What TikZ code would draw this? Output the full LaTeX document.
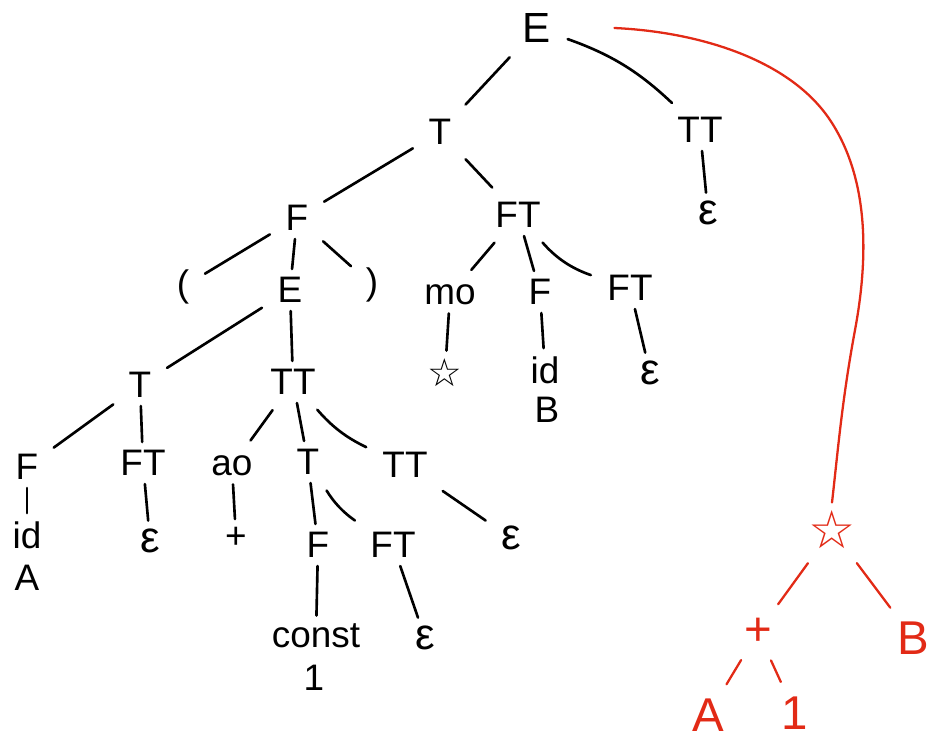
\documentclass[tikz,border=0pt]{standalone}
\usepackage{fontspec}
\setmainfont{Liberation Sans}
\newfontfamily\symfont{DejaVu Sans}
\definecolor{penred}{RGB}{226,42,22}

\begin{document}
\begin{tikzpicture}[-,
					x=0.02cm, y=-0.02cm,
					line width=1.5pt,
					line cap=round,
					sym node/.style={inner sep=4pt,font=\fontsize{21}{22}\selectfont},
					eps node/.style={sym node,font=\fontsize{25}{26}\selectfont},
					star node/.style={sym node,font=\symfont\fontsize{22}{24}\selectfont},
					red node/.style={sym node,text=penred,font=\fontsize{27}{28}\selectfont},
					red star/.style={red node,font=\symfont\fontsize{30}{32}\selectfont},
					red edge/.style={draw=penred,line width=1.3pt},
					vline/.style={shorten <=0pt,shorten >=0pt}]

  \useasboundingbox (0,0) rectangle (935,742);

  % parse tree
  \node[sym node,font=\fontsize{24}{26}\selectfont] (E0) at (537,28) {E};
  \node[sym node] (T1) at (440,132) {T};
  \node[sym node] (TT1) at (700,130) {TT};
  \node[eps node] (e1) at (708,213) {ε};
  \node[sym node] (F1) at (297,218) {F};
  \node[sym node] (FT1) at (518,215) {FT};
  \node[sym node] (lp) at (183,287) {(};
  \node[sym node] (E2) at (290,290) {E};
  \node[sym node] (rp) at (372,285) {)};
  \node[sym node] (mo) at (450,295) {mo};
  \node[sym node] (F2) at (540,292) {F};
  \node[sym node] (FT2) at (630,288) {FT};
  \node[star node] (st1) at (445,373) {☆};
  \node[sym node] (id1) at (545,370) {id};
  \node[sym node] (B1) at (547,410) {B};
  \node[eps node] (e2) at (650,373) {ε};
  \node[sym node] (T2) at (140,385) {T};
  \node[sym node] (TT2) at (293,382) {TT};
  \node[sym node] (F3) at (27,467) {F};
  \node[sym node] (FT3) at (143,463) {FT};
  \node[sym node] (ao) at (232,466) {ao};
  \node[sym node] (T3) at (308,462) {T};
  \node[sym node] (TT3) at (405,465) {TT};
  \node[sym node] (id2) at (27,535) {id};
  \node[sym node] (A1) at (27,578) {A};
  \node[eps node] (e3) at (150,541) {ε};
  \node[sym node] (plus) at (236,538) {+};
  \node[sym node] (F4) at (318,545) {F};
  \node[sym node] (FT4) at (393,545) {FT};
  \node[eps node] (e4) at (511,538) {ε};
  \node[sym node] (const) at (316,636) {const};
  \node[sym node] (one) at (314,678) {1};
  \node[eps node] (e5) at (425,638) {ε};

  % syntax tree
  \node[red star] (rst) at (832,530) {☆};
  \node[red node] (rplus) at (758,632) {+};
  \node[red node] (rB) at (913,638) {B};
  \node[red node] (rA) at (708,715) {A};
  \node[red node] (rone) at (795,713) {1};

  \path[every edge/.append style={shorten <=5pt,shorten >=5pt}]
    (E0) edge (T1)
         edge[bend left=12] (TT1)
    (TT1) edge[vline] (e1)
    (T1) edge (F1)
         edge (FT1)
    (F1) edge (lp)
         edge[vline] (E2)
         edge (rp)
    (FT1) edge (mo)
          edge[vline] (F2)
          edge[bend right=15] (FT2)
    (mo) edge[vline] (st1)
    (F2) edge[vline] (id1)
    (FT2) edge[vline] (e2)
    (E2) edge (T2)
         edge[vline] (TT2)
    (T2) edge (F3)
         edge[vline] (FT3)
    (TT2) edge (ao)
          edge[vline] (T3)
          edge[bend right=12] (TT3)
    (F3) edge[vline] (id2)
    (FT3) edge[vline] (e3)
    (ao) edge[vline] (plus)
    (T3) edge[vline] (F4)
         edge[bend right=12] (FT4)
    (TT3) edge (e4)
    (F4) edge[vline] (const)
    (FT4) edge[vline] (e5);

  \draw[red edge] ([xshift=1.1cm]E0.east) .. controls (700,32) and (790,60) .. (830,120)
    .. controls (870,180) and (868,260) .. (855,330)
    .. controls (842,400) and (838,450) .. (rst.north);
  \path[every edge/.append style={red edge,shorten <=4pt,shorten >=4pt}]
    (rst) edge (rplus)
          edge (rB)
    (rplus) edge (rA)
            edge (rone);
\end{tikzpicture}
\end{document}
